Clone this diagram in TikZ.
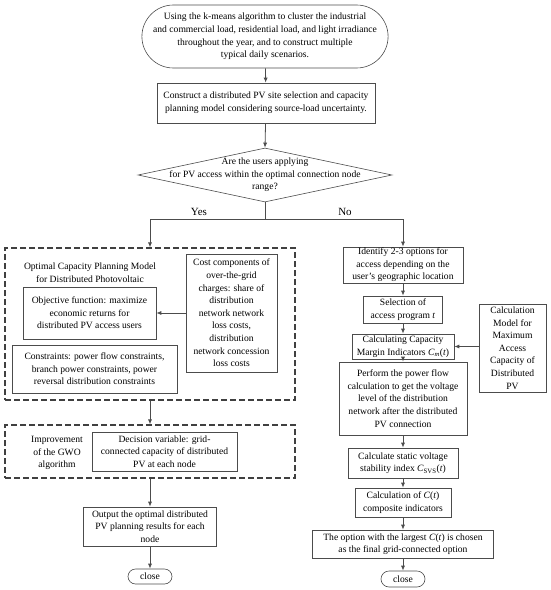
\documentclass[tikz,border=0pt]{standalone}
\usepackage{fontspec}
\setmainfont{Liberation Serif}
\usetikzlibrary{shapes.geometric,shapes.misc,arrows.meta}
\begin{document}
\begin{tikzpicture}[x=1pt,y=-1pt,
  every node/.style={font=\fontsize{9.6}{12.6}\selectfont, align=center, inner sep=1pt},
  box/.style={draw=black!70, line width=0.6pt, rectangle},
  stad/.style={draw=black!70, line width=0.6pt, rounded rectangle},
  dbox/.style={draw=black!75, line width=1.1pt, dash pattern=on 6pt off 3pt, rectangle},
  arr/.style={draw=black!70, line width=0.8pt, -{Latex[length=5pt,width=4pt]}},
  ln/.style={draw=black!70, line width=0.8pt},
  lab/.style={font=\fontsize{11}{13}\selectfont}
]
\useasboundingbox (0,0) rectangle (550,590);
% top
\node[stad, minimum width=244pt, minimum height=63pt] (top) at (265,36.5)
 {Using the k-means algorithm to cluster the industrial\\and commercial load, residential load, and light irradiance\\throughout the year, and to construct multiple\\typical daily scenarios.};
\node[box, minimum width=218pt, minimum height=40pt] (b2) at (266,103)
 {Construct a distributed PV site selection and capacity\\planning model considering source-load uncertainty.};
\node[draw=black!70, line width=0.6pt, diamond, minimum width=254pt, minimum height=54pt, inner sep=0pt] (dec) at (265,175) {};
\node (dectxt) at (dec.center) {Are the users applying\\for PV access within the optimal connection node\\range?};
\coordinate (split) at (265,219);
\node[lab] (yes) at (199,212) {Yes};
\node[lab] (no) at (345,212) {No};

% left
\node[dbox, minimum width=290pt, minimum height=152pt] (o1) at (150,324) {};
\node (ttl) at (90,273) {Optimal Capacity Planning Model\\for Distributed Photovoltaic};
\node[box, minimum width=133pt, minimum height=52pt] (obj) at (89.5,313)
 {Objective function: maximize\\economic returns for\\distributed PV access users};
\node[box, minimum width=91pt, minimum height=118pt] (cost) at (231.5,313)
 {Cost components of\\over-the-grid\\charges: share of\\distribution\\network network\\loss costs,\\distribution\\network concession\\loss costs};
\node[box, minimum width=165pt, minimum height=48pt] (cons) at (94.5,369)
 {Constraints: power flow constraints,\\branch power constraints, power\\reversal distribution constraints};
\node[dbox, minimum width=290pt, minimum height=53pt] (o2) at (150,451.5) {};
\node (impr) at (57,453) {Improvement\\of the GWO\\algorithm};
\node[box, minimum width=145pt, minimum height=39pt] (dv) at (164.5,451.5)
 {Decision variable: grid-\\connected capacity of distributed\\PV at each node};
\node[box, minimum width=133pt, minimum height=39pt] (out) at (150,526.5)
 {Output the optimal distributed\\PV planning results for each\\node};
\node[stad, minimum width=46pt, minimum height=15pt] (c1) at (150,576.5) {close};

% right
\node[box, minimum width=120pt, minimum height=36pt] (idf) at (403,265)
 {Identify 2-3 options for\\access depending on the\\user's geographic location};
\node[box, minimum width=79pt, minimum height=27pt] (sel) at (403,309.5)
 {Selection of\\access program \textit{t}};
\node[box, minimum width=102pt, minimum height=25pt] (cap) at (403,346.5)
 {Calculating Capacity\\Margin Indicators \textit{C}\textsubscript{\textit{m}}(\textit{t})};
\node[box, minimum width=67pt, minimum height=88pt] (model) at (512.5,348)
 {Calculation\\Model for\\Maximum\\Access\\Capacity of\\Distributed\\PV};
\node[box, minimum width=128pt, minimum height=73pt] (perf) at (403,398.5)
 {Perform the power flow\\calculation to get the voltage\\level of the distribution\\network after the distributed\\PV connection};
\node[box, minimum width=110pt, minimum height=30pt] (svs) at (403,463)
 {Calculate static voltage\\stability index \textit{C}\textsubscript{SVS}(\textit{t})};
\node[box, minimum width=96pt, minimum height=29pt] (ct) at (403,502.5)
 {Calculation of \textit{C}(\textit{t})\\composite indicators};
\node[box, minimum width=181pt, minimum height=28pt] (opt) at (403,544)
 {The option with the largest \textit{C}(\textit{t}) is chosen\\as the final grid-connected option};
\node[stad, minimum width=46pt, minimum height=16pt] (c2) at (403,579) {close};

% connectors
\draw[arr] (top) -- (b2);
\draw[arr] (b2) -- (dec.north);
\draw[ln] (dec.south) -- (split);
\draw[arr] (split) -| (o1.north);
\draw[arr] (split) -| (idf.north);
\draw[arr] (cost.west |- obj.east) -- (obj.east);
\draw[arr] (o1.south) -- (o2.north);
\draw[arr] (o2.south) -- (out.north);
\draw[arr] (out) -- (c1);
\draw[arr] (idf) -- (sel);
\draw[arr] (sel) -- (cap);
\draw[arr] (model.west |- cap.east) -- (cap.east);
\draw[arr] (cap) -- (perf);
\draw[arr] (perf) -- (svs);
\draw[arr] (svs) -- (ct);
\draw[arr] (ct) -- (opt);
\draw[arr] (opt) -- (c2);
\end{tikzpicture}
\end{document}
